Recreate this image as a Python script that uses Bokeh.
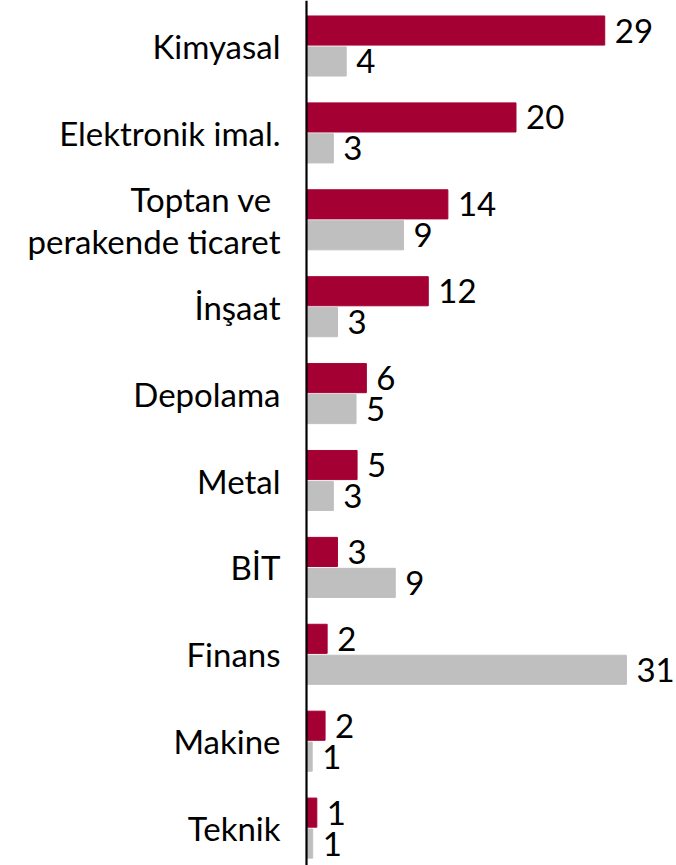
from bokeh.plotting import figure
from bokeh.models import ColumnDataSource, Range1d, Span
from bokeh.core.properties import value
from bokeh.embed import file_html
from bokeh.resources import INLINE

categories = ["Kimyasal", "Elektronik imal.", "Toptan ve \nperakende ticaret", "İnşaat",
              "Depolama", "Metal", "BİT", "Finans", "Makine", "Teknik"]
series_red = [28.9, 20.3, 13.7, 11.8, 5.8, 4.9, 3.0, 2.0, 1.8, 1.0]
series_grey = [3.85, 2.6, 9.4, 3.0, 4.8, 2.6, 8.6, 31.0, 0.55, 0.6]

RED = "#A50034"
GREY = "#BFBFBF"
FONT = "Lato"
FS = "33px"

W, H = 676, 865
PXU_Y = 86.9
PXU_X = 10.32

pos = [-i for i in range(len(categories))]
off = 0.178
bh = 0.335


def fmt(v):
    return str(int(v + 0.5))


src = ColumnDataSource(dict(
    cat=categories, y=pos,
    yr=[p + off for p in pos], yg=[p - off for p in pos],
    red=series_red, grey=series_grey,
    red_lbl=[fmt(v) for v in series_red], grey_lbl=[fmt(v) for v in series_grey],
    zero=[0] * len(categories),
))

y_top = 45.5 / PXU_Y
x_left = -306.0 / PXU_X
p = figure(width=W, height=H, output_backend="svg", toolbar_location=None,
           x_range=Range1d(x_left, x_left + W / PXU_X),
           y_range=Range1d(y_top - H / PXU_Y, y_top),
           min_border=0, outline_line_color=None, background_fill_color="white")
p.axis.visible = False
p.grid.visible = False

p.hbar(y="yr", left=0, right="red", height=bh, color=RED, source=src)
p.hbar(y="yg", left=0, right="grey", height=bh, color=GREY, source=src)

p.text(x="red", y="yr", text="red_lbl", x_offset=10, text_align="left", text_baseline="middle",
       text_font=value(FONT), text_font_size=FS, text_color="black", source=src)
p.text(x="grey", y="yg", text="grey_lbl", x_offset=10, text_align="left", text_baseline="middle",
       text_font=value(FONT), text_font_size=FS, text_color="black", source=src)

p.text(x="zero", y="y", text="cat", x_offset=-26, text_align="right", text_baseline="middle",
       text_font=value(FONT), text_font_size=FS, text_color="black", text_line_height=1.05,
       source=src)

p.add_layout(Span(location=0, dimension="height", line_color="black", line_width=2.2))

open("out.html", "w").write(file_html(p, INLINE))
